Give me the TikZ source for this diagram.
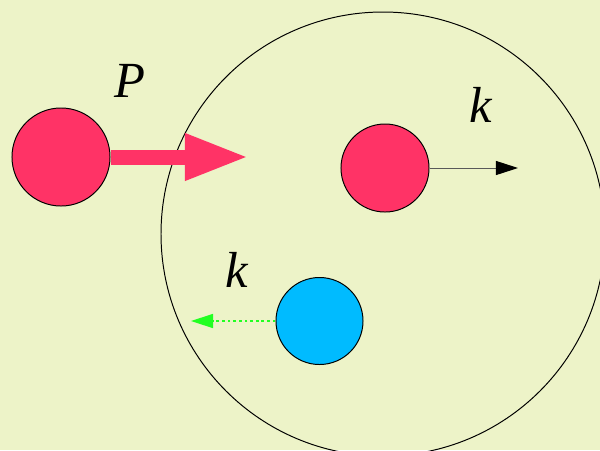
\documentclass[tikz,border=0pt]{standalone}
\usepackage{fontspec}
\setmainfont{Liberation Serif}
\usetikzlibrary{arrows.meta}

\begin{document}
\begin{tikzpicture}[x=0.025cm, y=-0.025cm, line width=0.7pt,
      ball/.style={circle, draw, inner sep=0pt},
      redball/.style={ball, fill=ballred},
      lbl/.style={font=\fontsize{36}{40}\selectfont\itshape, anchor=base, inner sep=0pt},
      push/.style={-{Triangle[length=1.6cm, width=1.075cm]}, draw=ballred, line width=0.375cm},
      arr/.style={-{Triangle[length=0.55cm, width=0.35cm, color=#1]}}]

    \definecolor{bgyellow}{HTML}{EDF3C8}
    \definecolor{ballred}{HTML}{FF3366}
    \definecolor{ballblue}{HTML}{00BBFF}
    \definecolor{kgreen}{HTML}{22FF22}

    % background and frame
    \path[use as bounding box, fill=bgyellow] (0,0) rectangle (600,450);

    % target region
    \draw (383,234) circle (222);

    % incoming projectile
    \node[redball, minimum size=2.45cm] (proj) at (61,157) {};
    \coordinate (projend) at (249,157);
    \draw[push] (proj.east) -- (projend);
    \node[lbl] (plbl) at (130,97) {P};

    % scattered particle
    \node[redball, minimum size=2.2cm] (out) at (385,168) {};
    \coordinate (outend) at (518,168);
    \draw[arr=black, draw=black!65] (out.east) -- (outend);
    \node[lbl] (kout) at (481,122) {k};

    % recoil particle
    \node[ball, fill=ballblue, minimum size=2.175cm] (rec) at (319.5,321) {};
    \coordinate (recend) at (191,321);
    \draw[arr=kgreen, draw=kgreen, line width=1pt, dash pattern=on 2pt off 2pt] (rec.west) -- (recend);
    \node[lbl] (kin) at (237,287) {k};

\end{tikzpicture}
\end{document}
